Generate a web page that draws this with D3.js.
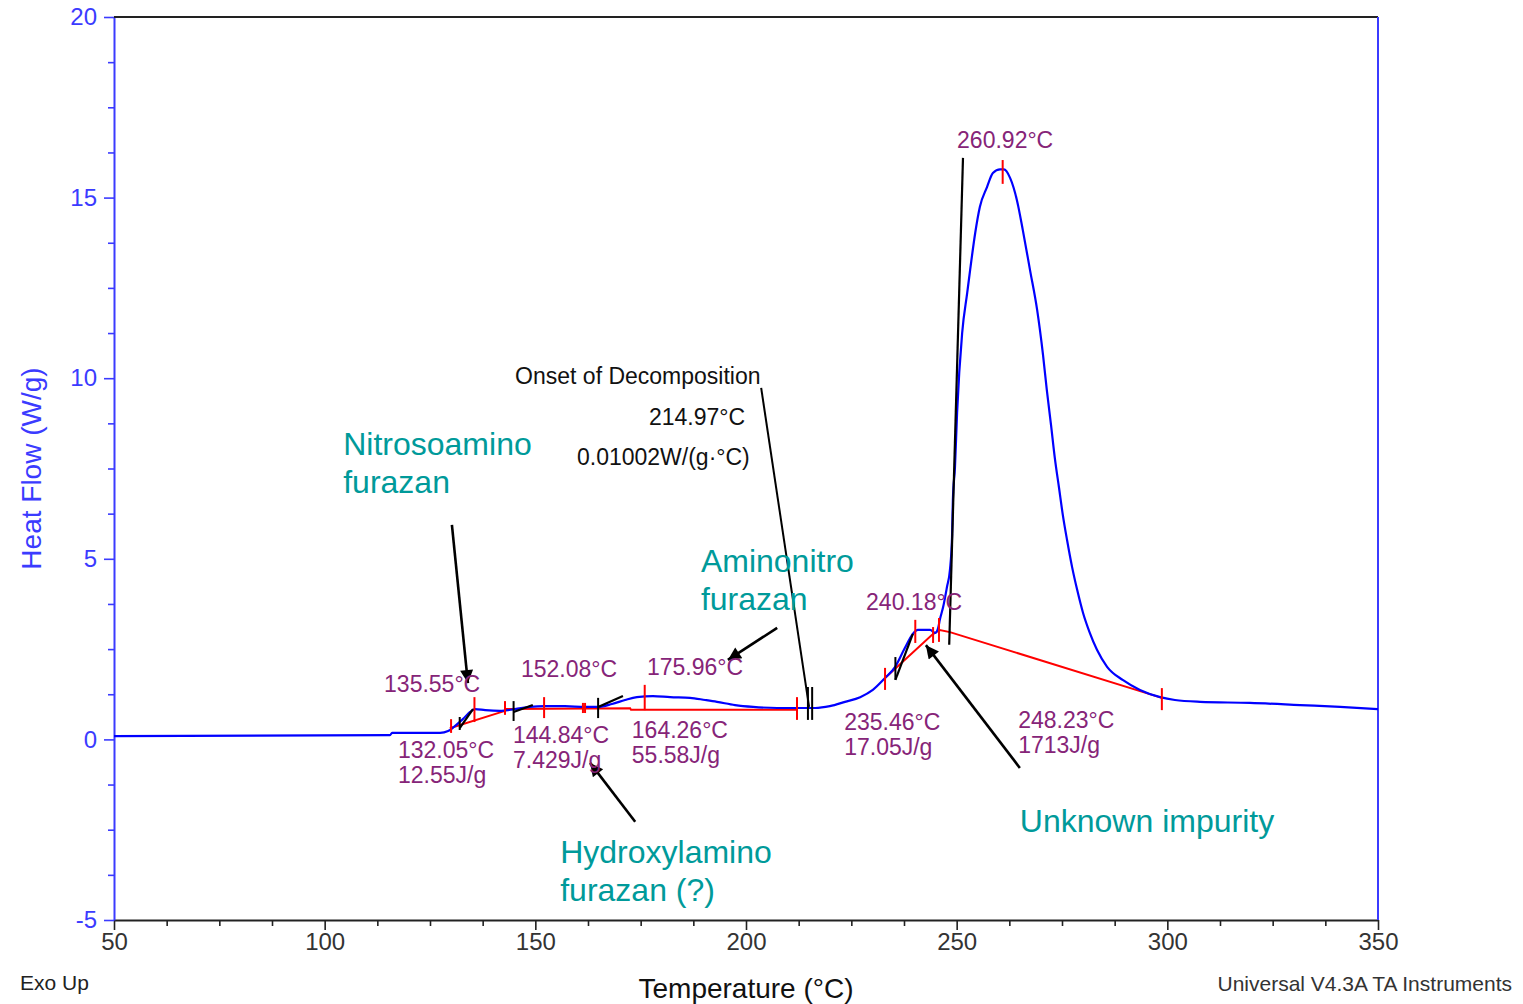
<!DOCTYPE html>
<html>
<head>
<meta charset="utf-8">
<script src="https://cdn.jsdelivr.net/npm/d3@7"></script>
<style>
  body { margin: 0; background: #fff; }
  text { font-family: "Liberation Sans", Arial, Helvetica, sans-serif; }
</style>
</head>
<body>
<svg id="chart" width="1523" height="1004"></svg>
<script>
// DSC trace: temperature (°C) vs heat flow (W/g)
const heatTemp = [50,115.5,116,127.4,129.3,130.9,132.8,134.5,135.7,138.1,141.6,145.2,148.7,152.3,157,161.8,164.9,168.2,171.3,174.1,
  177.9,182,186.7,190.3,193.1,197.4,201.7,207.4,212.1,216.4,219.9,223.5,227.1,230.1,233,235.4,237.7,239.6,240.8,243.7,
  244.9,245.6,246,246.8,247.7,248.4,248.9,249.1,249.6,250.1,251.3,252.5,253.2,254.4,255.5,257.2,258.6,260.3,261.2,262.7,
  264.3,265.7,267.4,269.1,270.5,271.4,272.4,273.3,274.3,275.2,276.2,277.4,278.6,280,281.6,283.3,285.7,289.5,293.5,298.3,
  301.8,307.8,319.6,331.5,341,350];
const heatFlow = [0.09,0.12,0.18,0.18,0.23,0.37,0.56,0.76,0.84,0.81,0.79,0.84,0.90,0.92,0.92,0.90,0.90,0.98,1.09,1.17,
  1.20,1.17,1.15,1.09,1.04,0.95,0.90,0.87,0.87,0.87,0.92,1.04,1.17,1.37,1.70,2.01,2.53,2.92,3.03,3.03,
  2.95,3.08,3.31,3.67,4.22,4.69,5.60,6.63,7.54,9.04,11.25,12.36,13.00,14.02,14.74,15.29,15.68,15.78,15.78,15.54,
  14.93,14.10,13.00,11.89,10.64,9.67,8.70,7.79,6.96,6.21,5.52,4.77,4.14,3.50,2.95,2.48,2.01,1.64,1.37,1.17,
  1.09,1.04,1.01,0.95,0.90,0.84];

// integration baselines [temp, flow]
const baseline1 = [[129.7,0.31],[142.8,0.79]];
const baseline2 = [[142.8,0.84],[172.5,0.86],[172.7,0.82],[212.1,0.82]];
const baseline3 = [[233.0,1.70],[244.1,2.89],[246.0,3.03],[248.4,2.97],[298.7,1.15]];

// red limit / peak markers [temp, flowLow, flowHigh]
const limitMarks = [[130.0,0.18,0.56],[135.55,0.48,1.17],[142.8,0.68,1.06],[152.08,0.59,1.17],[161.3,0.73,1.01],
  [161.8,0.73,1.01],[175.96,0.81,1.51],[212.1,0.54,1.17],[233.0,1.37,1.98],[240.18,2.67,3.31],[244.4,2.67,3.11],
  [245.8,2.70,3.36],[260.92,15.38,16.04],[298.7,0.81,1.42]];

// black onset markers and tangents
const onsetMarks = [[132.05,0.26,0.62],[144.84,0.51,1.06],[164.9,0.59,1.15],[214.7,0.54,1.45],[215.7,0.54,1.45],[235.46,1.65,2.28]];
const tangents = [[132.05,0.31,135.2,0.84],[144.84,0.76,149.4,0.95],[164.9,0.90,170.8,1.20],[235.46,1.65,239.6,2.92],[248.23,2.62,251.5,16.1]];
const onsetLeader = [[203.6,9.73],[214.97,0.90]];

// annotation arrows [fromT, fromV, toT, toV]
const arrows = [[130.2,5.94,134.0,1.56],[207.4,3.09,195.7,2.20],[173.7,-2.28,163.0,-0.65],[265.0,-0.79,242.7,2.61]];

const peakLabels = [["260.92°C",250.1,16.37],["240.18°C",228.5,3.58],["135.55°C",114.1,1.31],["152.08°C",146.6,1.73],["175.96°C",176.5,1.78]];
const areaLabels = [["132.05°C","12.55J/g",117.4,-0.51],["144.84°C","7.429J/g",144.7,-0.10],["164.26°C","55.58J/g",172.9,0.04],
  ["235.46°C","17.05J/g",223.3,0.26],["248.23°C","1713J/g",264.6,0.32]];
const compoundLabels = [["Nitrosoamino","furazan",104.4,7.88],["Aminonitro","furazan",189.3,4.63],
  ["Hydroxylamino","furazan (?)",155.9,-3.42],["Unknown impurity","",265.0,-2.56]];
const onsetText = [["Onset of Decomposition",145.2,9.84,"start"],["214.97°C",199.8,8.71,"end"],["0.01002W/(g·°C)",200.9,7.60,"end"]];

const xTicks = [50,100,150,200,250,300,350];
const yTicks = [-5,0,5,10,15,20];

const W = 1523, H = 1004;
const margin = {top: 17, right: 145, bottom: 84, left: 114};
const svg = d3.select('#chart');

const x = d3.scaleLinear().domain([50, 350]).range([margin.left, W - margin.right]);
const y = d3.scaleLinear().domain([-5, 20]).range([H - margin.bottom, margin.top]);

const BLUE = '#0000ff', AXBLUE = '#3b3bff', RED = '#ff0000', PURPLE = '#862478', TEAL = '#009a9a';

svg.append('defs').append('marker')
  .attr('id', 'head').attr('viewBox', '0 0 10 10')
  .attr('refX', 10).attr('refY', 5)
  .attr('markerWidth', 16).attr('markerHeight', 13)
  .attr('markerUnits', 'userSpaceOnUse')
  .attr('orient', 'auto')
  .append('path').attr('d', 'M0,0L10,5L0,10Z').attr('fill', '#000');

// axes
const xMinor = d3.range(50, 350.1, 12.5).filter(v => v % 50 !== 0);
svg.append('g').attr('transform', `translate(0,${y(-5)})`)
  .call(d3.axisBottom(x).tickValues(xMinor).tickSize(6).tickFormat('').tickSizeOuter(0))
  .call(g => g.select('.domain').remove())
  .selectAll('line').attr('stroke', '#222').attr('stroke-width', 1.6);
const gx = svg.append('g').attr('transform', `translate(0,${y(-5)})`)
  .call(d3.axisBottom(x).tickValues(xTicks).tickSize(10).tickPadding(3).tickSizeOuter(0));
gx.select('.domain').attr('stroke', '#222').attr('stroke-width', 2);
gx.selectAll('line').attr('stroke', '#222').attr('stroke-width', 1.6);
gx.selectAll('text').attr('font-size', 24).attr('fill', '#333').attr('font-family', '"Liberation Sans", Arial, sans-serif');

const yMinor = d3.range(-5, 20.01, 1.25).filter(v => v % 5 !== 0);
svg.append('g').attr('transform', `translate(${x(50)},0)`)
  .call(d3.axisLeft(y).tickValues(yMinor).tickSize(6).tickFormat('').tickSizeOuter(0))
  .call(g => g.select('.domain').remove())
  .selectAll('line').attr('stroke', AXBLUE).attr('stroke-width', 1.6);
const gy = svg.append('g').attr('transform', `translate(${x(50)},0)`)
  .call(d3.axisLeft(y).tickValues(yTicks).tickSize(10).tickPadding(7).tickSizeOuter(0).tickFormat(d => String(d)));
gy.select('.domain').attr('stroke', AXBLUE).attr('stroke-width', 2);
gy.selectAll('line').attr('stroke', AXBLUE).attr('stroke-width', 1.6);
gy.selectAll('text').attr('font-size', 24).attr('fill', AXBLUE).attr('font-family', '"Liberation Sans", Arial, sans-serif');

// frame: top black, right blue
svg.append('line').attr('x1', x(50)).attr('x2', x(350)).attr('y1', y(20)).attr('y2', y(20))
  .attr('stroke', '#222').attr('stroke-width', 2);
svg.append('line').attr('x1', x(350)).attr('x2', x(350)).attr('y1', y(20)).attr('y2', y(-5))
  .attr('stroke', AXBLUE).attr('stroke-width', 2);

// axis titles and footer
svg.append('text').attr('transform', `translate(41,${(y(20) + y(-5)) / 2}) rotate(-90)`)
  .attr('text-anchor', 'middle').attr('font-size', 28).attr('fill', AXBLUE).text('Heat Flow (W/g)');
svg.append('text').attr('x', (x(50) + x(350)) / 2).attr('y', 998)
  .attr('text-anchor', 'middle').attr('font-size', 28).attr('fill', '#111').text('Temperature (°C)');
svg.append('text').attr('x', 20).attr('y', 990).attr('font-size', 21).attr('fill', '#222').text('Exo Up');
svg.append('text').attr('x', 1512).attr('y', 991).attr('text-anchor', 'end')
  .attr('font-size', 21).attr('fill', '#333').text('Universal V4.3A TA Instruments');

const line = d3.line().x(d => x(d[0])).y(d => y(d[1]));

// baselines
[baseline1, baseline2, baseline3].forEach(b => {
  svg.append('path').attr('d', line(b)).attr('fill', 'none').attr('stroke', RED).attr('stroke-width', 2);
});

// heat flow curve
svg.append('path')
  .attr('d', line.curve(d3.curveMonotoneX)(heatTemp.map((t, i) => [t, heatFlow[i]])))
  .attr('fill', 'none').attr('stroke', BLUE).attr('stroke-width', 2.2);
line.curve(d3.curveLinear);

// red markers
svg.selectAll('line.limit').data(limitMarks).enter().append('line')
  .attr('x1', d => x(d[0])).attr('x2', d => x(d[0]))
  .attr('y1', d => y(d[1])).attr('y2', d => y(d[2]))
  .attr('stroke', RED).attr('stroke-width', 2);

// black onset markers and tangents
svg.selectAll('line.onset').data(onsetMarks).enter().append('line')
  .attr('x1', d => x(d[0])).attr('x2', d => x(d[0]))
  .attr('y1', d => y(d[1])).attr('y2', d => y(d[2]))
  .attr('stroke', '#000').attr('stroke-width', 2);
svg.selectAll('line.tan').data(tangents).enter().append('line')
  .attr('x1', d => x(d[0])).attr('y1', d => y(d[1]))
  .attr('x2', d => x(d[2])).attr('y2', d => y(d[3]))
  .attr('stroke', '#000').attr('stroke-width', 2.2);
svg.append('path').attr('d', line(onsetLeader)).attr('fill', 'none').attr('stroke', '#000').attr('stroke-width', 2);

// arrows
svg.selectAll('line.arrow').data(arrows).enter().append('line')
  .attr('x1', d => x(d[0])).attr('y1', d => y(d[1]))
  .attr('x2', d => x(d[2])).attr('y2', d => y(d[3]))
  .attr('stroke', '#000').attr('stroke-width', 2.6)
  .attr('marker-end', 'url(#head)');

// purple labels
svg.selectAll('text.peak').data(peakLabels).enter().append('text')
  .attr('x', d => x(d[1])).attr('y', d => y(d[2]))
  .attr('font-size', 23).attr('fill', PURPLE).text(d => d[0]);
const al = svg.selectAll('text.area').data(areaLabels).enter().append('text')
  .attr('x', d => x(d[2])).attr('y', d => y(d[3]))
  .attr('font-size', 23).attr('fill', PURPLE);
al.append('tspan').text(d => d[0]);
al.append('tspan').attr('x', d => x(d[2])).attr('dy', 25).text(d => d[1]);

// teal compound labels
const cl = svg.selectAll('text.compound').data(compoundLabels).enter().append('text')
  .attr('x', d => x(d[2])).attr('y', d => y(d[3]))
  .attr('font-size', 32).attr('fill', TEAL);
cl.append('tspan').text(d => d[0]);
cl.append('tspan').attr('x', d => x(d[2])).attr('dy', 38).text(d => d[1]);

// onset text
svg.selectAll('text.onsetText').data(onsetText).enter().append('text')
  .attr('x', d => x(d[1])).attr('y', d => y(d[2]))
  .attr('text-anchor', d => d[3])
  .attr('font-size', 23).attr('fill', '#111').text(d => d[0]);
</script>
</body>
</html>
